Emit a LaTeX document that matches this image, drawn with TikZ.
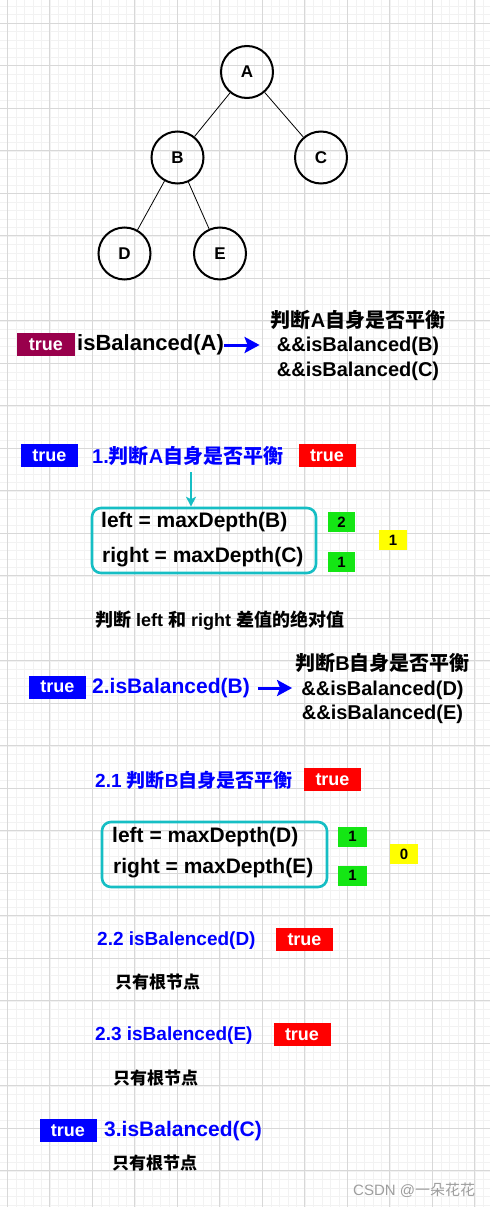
\documentclass[tikz,border=0pt]{standalone}
\usepackage{fontspec}
\setmainfont{Liberation Sans}
\newfontfamily\cn{Noto Sans CJK SC}
\newcommand{\zh}[1]{{\cn #1}}
\usetikzlibrary{arrows.meta}

\definecolor{tagmaroon}{RGB}{153,0,76}
\definecolor{tagblue}{RGB}{0,0,255}
\definecolor{tagred}{RGB}{255,0,0}
\definecolor{numgreen}{RGB}{20,230,20}
\definecolor{numyellow}{RGB}{255,255,0}
\definecolor{boxteal}{RGB}{22,190,196}
\definecolor{majorgrid}{RGB}{216,216,216}
\definecolor{minorgrid}{RGB}{242,242,242}

\begin{document}
\begin{tikzpicture}[x=1pt, y=-1pt,
    treenode/.style={circle, draw, line width=2pt, minimum size=52pt, inner sep=0pt,
        font=\fontsize{17}{18}\selectfont\bfseries},
    tag/.style={minimum width=57pt, minimum height=23pt, inner sep=0pt, text=white,
        font=\fontsize{18}{20}\selectfont\bfseries},
    num/.style={minimum width=27pt, minimum height=20pt, inner sep=0pt,
        font=\fontsize{15}{16}\selectfont\bfseries},
    txt/.style={inner sep=0pt, anchor=west, font=\fontsize{21}{24}\selectfont\bfseries},
    bluetxt/.style={txt, text=tagblue},
    note/.style={inner sep=0pt, anchor=west, font=\fontsize{17}{20}\selectfont\bfseries},
    expr/.style={inner sep=0pt, align=center, font=\fontsize{20}{24.5}\selectfont\bfseries},
    tealbox/.style={draw=boxteal, line width=2.6pt, rounded corners=9pt},
    bluearrow/.style={draw=tagblue, line width=3pt, -{Stealth[length=15pt,width=16pt,inset=3pt]}}]
\useasboundingbox (0,0) rectangle (490,1207);
\fill[white] (0,0) rectangle (490,1207);

% background grid
\foreach \i in {-1,...,58}
    \draw[minorgrid, line width=0.6pt] ({7.3+8.5*\i},0) -- ({7.3+8.5*\i},1207);
\foreach \j in {-3,...,140}
    \draw[minorgrid, line width=0.6pt] (0,{23.3+8.5*\j}) -- (490,{23.3+8.5*\j});
\foreach \i in {0,...,11}
    \draw[majorgrid, line width=0.9pt] ({7.3+42.5*\i},0) -- ({7.3+42.5*\i},1207);
\foreach \j in {0,...,28}
    \draw[majorgrid, line width=0.9pt] (0,{23.3+42.5*\j}) -- (490,{23.3+42.5*\j});

% the tree
\node[treenode] (A) at (247,72) {A};
\node[treenode] (B) at (177.5,157.5) {B};
\node[treenode] (C) at (321,157.5) {C};
\node[treenode] (D) at (124.5,253.5) {D};
\node[treenode] (E) at (220,253.5) {E};
\draw[line width=0.8pt] (A) -- (B);
\draw[line width=0.8pt] (A) -- (C);
\draw[line width=0.8pt] (B) -- (D);
\draw[line width=0.8pt] (B) -- (E);

% isBalanced(A)
\node[tag, fill=tagmaroon, minimum width=58pt] (t0) at (46,344.5) {true};
\node[txt, font=\fontsize{22}{24}\selectfont\bfseries] (callA) at (77,345) {isBalanced(A)};
\node[expr] (exprA) at (358,345) {\zh{判断}A\zh{自身是否平衡}\\\&\&isBalanced(B)\\\&\&isBalanced(C)};
\draw[bluearrow, shorten >=11pt] (callA.east) -- (callA.east -| exprA.west);

% step 1
\node[tag, fill=tagblue] (t1) at (49.5,455.5) {true};
\node[bluetxt, font=\fontsize{20}{24}\selectfont\bfseries] (step1) at (92,456) {1.\zh{判断}A\zh{自身是否平衡}};
\node[tag, fill=tagred] (r1) at (327,455.5) {true};
\node[tealbox, minimum width=224pt, minimum height=65pt] (box1) at (204,540.5) {};
\coordinate (s1) at (191,472);
\draw[boxteal, line width=1.4pt, -{Stealth[length=10pt,width=10pt,inset=2.5pt]}] (s1) -- (s1 |- box1.north);
\node[txt] (l1) at (101,522) {left = maxDepth(B)};
\node[txt] (r1txt) at (102,557) {right = maxDepth(C)};
\node[num, fill=numgreen] (g1) at (341.5,522) {2};
\node[num, fill=numgreen] (g2) at (341.5,562) {1};
\node[num, fill=numyellow, minimum width=28pt] (y1) at (393,540) {1};

\node[note, font=\fontsize{18}{20}\selectfont\bfseries] (diff) at (95,621) {\zh{判断} left \zh{和} right \zh{差值的绝对值}};

% step 2
\node[tag, fill=tagblue] (t2) at (57.5,687) {true};
\node[bluetxt] (callB) at (92,688) {2.isBalanced(B)};
\node[expr] (exprB) at (382.5,688.5) {\zh{判断}B\zh{自身是否平衡}\\\&\&isBalanced(D)\\\&\&isBalanced(E)};
\draw[bluearrow, shorten <=8pt, shorten >=3pt] (callB.east) -- (callB.east -| exprB.west);

\node[bluetxt, font=\fontsize{19}{24}\selectfont\bfseries] (step21) at (95,780) {2.1 \zh{判断}B\zh{自身是否平衡}};
\node[tag, fill=tagred] (r2) at (332.5,779.5) {true};
\node[tealbox, minimum width=225pt, minimum height=65pt] (box2) at (214.5,854.5) {};
\node[txt] (l2) at (112,837) {left = maxDepth(D)};
\node[txt] (r2txt) at (113,868) {right = maxDepth(E)};
\node[num, fill=numgreen, minimum width=29pt] (g3) at (352.5,836.5) {1};
\node[num, fill=numgreen, minimum width=29pt] (g4) at (352.5,875.5) {1};
\node[num, fill=numyellow, minimum width=28pt] (y2) at (404,854) {0};

\node[bluetxt, font=\fontsize{19}{24}\selectfont\bfseries] (step22) at (97,941) {2.2 isBalenced(D)};
\node[tag, fill=tagred] (r3) at (304.5,939.5) {true};
\node[note] (leaf1) at (115,982) {\zh{只有根节点}};

\node[bluetxt, font=\fontsize{19}{24}\selectfont\bfseries] (step23) at (95,1036) {2.3 isBalenced(E)};
\node[tag, fill=tagred] (r4) at (302,1034.5) {true};
\node[note] (leaf2) at (113,1078) {\zh{只有根节点}};

% step 3
\node[tag, fill=tagblue] (t3) at (68,1130.5) {true};
\node[bluetxt] (callC) at (104,1131) {3.isBalanced(C)};
\node[note] (leaf3) at (112,1163) {\zh{只有根节点}};

\node[inner sep=0pt, anchor=west, text=black!38, font=\fontsize{15}{16}\selectfont] (mark) at (353,1190) {CSDN @\zh{一朵花花}};
\end{tikzpicture}
\end{document}
